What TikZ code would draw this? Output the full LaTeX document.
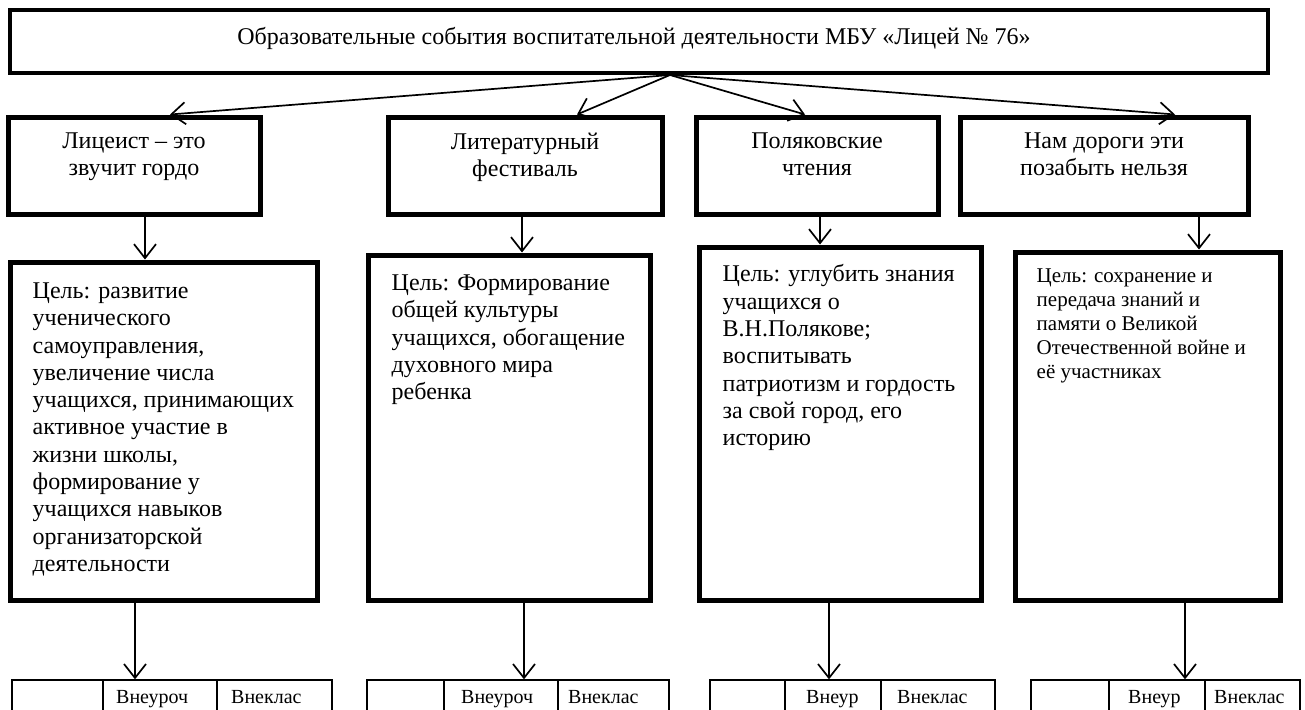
\documentclass[tikz,border=0pt]{standalone}
\usepackage{fontspec}
\setmainfont{Liberation Serif}
\usetikzlibrary{arrows.meta}
\begin{document}
\begin{tikzpicture}[x=1pt,y=-1pt,
  bigbox/.style={draw,line width=4pt,inner sep=0pt},
  headbox/.style={draw,line width=5pt,inner sep=0pt},
  goalbox/.style={draw,line width=5pt,inner sep=0pt},
  cell/.style={draw,line width=1.3pt,inner sep=0pt},
  arr/.style={line width=1.7pt,-{Straight Barb[length=14pt,width=22pt]}},
  main/.style={font=\fontsize{24}{27.3}\selectfont,inner sep=0pt},
  small/.style={font=\fontsize{21}{24}\selectfont,inner sep=0pt},
  celltext/.style={font=\fontsize{20}{24}\selectfont,inner sep=0pt,anchor=base west},
]
\useasboundingbox (0,0) rectangle (1305,709);
\clip (0,0) rectangle (1305,709);

% top box
\node[bigbox,minimum width=1258pt,minimum height=63pt] (top) at (639,41.5) {};
\node[main] (toptext) at (634,38)
  {Образовательные события воспитательной деятельности МБУ «Лицей № 76»};
\coordinate (hub) at (670,75);

% column coordinates
\coordinate (t1) at (170,0);
\coordinate (t2) at (577,0);
\coordinate (t3) at (805,0);
\coordinate (t4) at (1175,0);
\coordinate (m1) at (145,0);
\coordinate (m2) at (522,0);
\coordinate (m3) at (820,0);
\coordinate (m4) at (1199,0);
\coordinate (b1) at (135,0);
\coordinate (b2) at (524,0);
\coordinate (b3) at (829,0);
\coordinate (b4) at (1185,0);

% row 2
\node[headbox,minimum width=252pt,minimum height=97pt] (h1) at (134,165.5) {};
\node[headbox,minimum width=274pt,minimum height=97pt] (h2) at (525,165.5) {};
\node[headbox,minimum width=242pt,minimum height=97pt] (h3) at (817,165.5) {};
\node[headbox,minimum width=288pt,minimum height=97pt] (h4) at (1104,165.5) {};
\node[main,anchor=north,align=center] (h1t) at ([yshift=-18pt]h1.north) {Лицеист – это\\звучит гордо};
\node[main,anchor=north,align=center] (h2t) at ([yshift=-18pt]h2.north) {Литературный\\фестиваль};
\node[main,anchor=north,align=center] (h3t) at ([yshift=-18pt]h3.north) {Поляковские\\чтения};
\node[main,anchor=north,align=center] (h4t) at ([yshift=-18pt]h4.north) {Нам дороги эти\\позабыть нельзя};

% row 3
\node[goalbox,minimum width=307pt,minimum height=338pt] (g1) at (163.5,431) {};
\node[goalbox,minimum width=282pt,minimum height=345pt] (g2) at (509,427.5) {};
\node[goalbox,minimum width=282pt,minimum height=353pt] (g3) at (840,423.5) {};
\node[goalbox,minimum width=265pt,minimum height=348pt] (g4) at (1147.5,426) {};

\node[main,anchor=north west,align=left] (g1t) at ([xshift=25pt,yshift=-23pt]g1.north west)
  {Цель: развитие\\ученического\\самоуправления,\\увеличение числа\\учащихся, принимающих\\активное участие в\\жизни школы,\\формирование у\\учащихся навыков\\организаторской\\деятельности};
\node[main,anchor=north west,align=left] (g2t) at ([xshift=26pt,yshift=-22pt]g2.north west)
  {Цель: Формирование\\общей культуры\\учащихся, обогащение\\духовного мира\\ребенка};
\node[main,anchor=north west,align=left] (g3t) at ([xshift=26pt,yshift=-20pt]g3.north west)
  {Цель: углубить знания\\учащихся о\\В.Н.Полякове;\\воспитывать\\патриотизм и гордость\\за свой город, его\\историю};
\node[small,anchor=north west,align=left] (g4t) at ([xshift=24pt,yshift=-19pt]g4.north west)
  {Цель: сохранение и\\передача знаний и\\памяти о Великой\\Отечественной войне и\\её участниках};

% tables
\node[cell,minimum width=91pt,minimum height=50pt] (c1a) at (57.5,705) {};
\node[cell,minimum width=114pt,minimum height=50pt] (c1b) at (160,705) {};
\node[cell,minimum width=115pt,minimum height=50pt] (c1c) at (274.5,705) {};
\node[cell,minimum width=77pt,minimum height=50pt] (c2a) at (405.5,705) {};
\node[cell,minimum width=114pt,minimum height=50pt] (c2b) at (501,705) {};
\node[cell,minimum width=111pt,minimum height=50pt] (c2c) at (613.5,705) {};
\node[cell,minimum width=75pt,minimum height=50pt] (c3a) at (747.5,705) {};
\node[cell,minimum width=96pt,minimum height=50pt] (c3b) at (833,705) {};
\node[cell,minimum width=114pt,minimum height=50pt] (c3c) at (938,705) {};
\node[cell,minimum width=78pt,minimum height=50pt] (c4a) at (1070,705) {};
\node[cell,minimum width=96pt,minimum height=50pt] (c4b) at (1157,705) {};
\node[cell,minimum width=95pt,minimum height=50pt] (c4c) at (1252.5,705) {};

\node[celltext] (x1b) at (116,703) {Внеуроч};
\node[celltext] (x1c) at (231,703) {Внеклас};
\node[celltext] (x2b) at (461,703) {Внеуроч};
\node[celltext] (x2c) at (568,703) {Внеклас};
\node[celltext] (x3b) at (806,703) {Внеур};
\node[celltext] (x3c) at (897,703) {Внеклас};
\node[celltext] (x4b) at (1128,703) {Внеур};
\node[celltext] (x4c) at (1214,703) {Внеклас};

% arrows
\draw[arr] (hub) -- (h1.north -| t1);
\draw[arr] (hub) -- (h2.north -| t2);
\draw[arr] (hub) -- (h3.north -| t3);
\draw[arr] (hub) -- (h4.north -| t4);
\draw[arr] (h1.south -| m1) -- (g1.north -| m1);
\draw[arr] (h2.south -| m2) -- (g2.north -| m2);
\draw[arr] (h3.south -| m3) -- (g3.north -| m3);
\draw[arr] (h4.south -| m4) -- (g4.north -| m4);
\draw[arr] (g1.south -| b1) -- (c1b.north -| b1);
\draw[arr] (g2.south -| b2) -- (c2b.north -| b2);
\draw[arr] (g3.south -| b3) -- (c3b.north -| b3);
\draw[arr] (g4.south -| b4) -- (c4b.north -| b4);
\end{tikzpicture}
\end{document}
